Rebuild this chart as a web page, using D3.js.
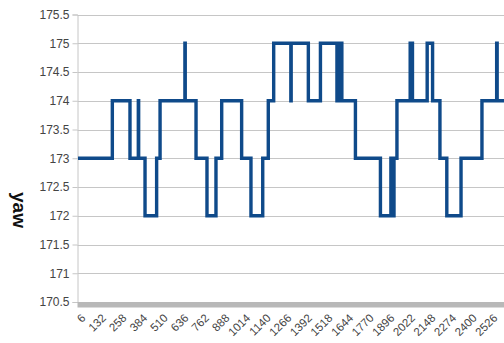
<!DOCTYPE html>
<html>
<head>
<meta charset="utf-8">
<script src="https://cdn.jsdelivr.net/npm/d3@7/dist/d3.min.js"></script>
<style>
  html, body { margin: 0; padding: 0; background: #fff; }
  svg { display: block; font-family: "Liberation Sans", Arial, sans-serif; }
</style>
</head>
<body>
<svg id="chart" width="504" height="343"></svg>
<script>
// Sample index where the yaw reading changes, and the new reading from there on
const changeX = [6, 216, 324, 375, 377, 416, 487, 508, 660, 662, 728, 795, 850, 885,
  1007, 1064, 1136, 1170, 1203, 1308, 1310, 1415, 1489, 1590, 1606, 1620, 1703,
  1856, 1920, 1928, 1939, 1957, 2038, 2052, 2142, 2175, 2220, 2262, 2349, 2477,
  2567, 2570, 2640];
const yawValues = [173, 174, 173, 174, 173, 172, 173, 174, 175, 174, 173, 172, 173, 174,
  173, 172, 173, 174, 175, 174, 175, 174, 175, 174, 175, 174, 173,
  172, 173, 172, 173, 174, 175, 174, 175, 174, 173, 172, 173, 174,
  175, 174, 174];

// Axis labels
const xTickLabels = [6, 132, 258, 384, 510, 636, 762, 888, 1014, 1140, 1266, 1392,
  1518, 1644, 1770, 1896, 2022, 2148, 2274, 2400, 2526];
const yTickLabels = [170.5, 171, 171.5, 172, 172.5, 173, 173.5, 174, 174.5, 175, 175.5];
const yTitle = "yaw";

const svg = d3.select("#chart");
const W = 504;
const plotLeft = 77.5;

const x = d3.scaleLinear().domain([6, 2640]).range([78, 508.6]);
const y = d3.scaleLinear().domain([170.5, 175.5]).range([302, 14.5]);

// horizontal grid
svg.append("g")
  .selectAll("line")
  .data(yTickLabels)
  .join("line")
  .attr("x1", plotLeft).attr("x2", W)
  .attr("y1", d => Math.round(y(d)) + 0.5).attr("y2", d => Math.round(y(d)) + 0.5)
  .attr("stroke", "#c6c6c6").attr("stroke-width", 1);

// y axis
const yAxis = svg.append("g")
  .attr("transform", `translate(${plotLeft},0)`)
  .call(d3.axisLeft(y).tickValues(yTickLabels).tickSize(5).tickPadding(3)
    .tickFormat(d => String(d)));
yAxis.select(".domain").attr("stroke", "#c6c6c6");
yAxis.selectAll(".tick line").attr("stroke", "#c6c6c6");
yAxis.selectAll(".tick text")
  .attr("fill", "#444").style("font-size", "12px")
  .style("font-family", "'Liberation Sans', Arial, sans-serif");

// dense category tick band along the x axis
svg.append("rect")
  .attr("x", plotLeft).attr("y", y(170.5))
  .attr("width", W - plotLeft).attr("height", 5.5)
  .attr("fill", "#b8b8b8");

// x tick labels, rotated
const xAxis = svg.append("g")
  .attr("transform", `translate(0,${y(170.5) + 11})`)
  .call(d3.axisBottom(x).tickValues(xTickLabels).tickSize(0).tickPadding(0)
    .tickFormat(d => String(d)));
xAxis.select(".domain").remove();
xAxis.selectAll(".tick text")
  .attr("fill", "#444").style("font-size", "11.5px")
  .style("font-family", "'Liberation Sans', Arial, sans-serif")
  .attr("text-anchor", "end")
  .attr("dy", "0.7em")
  .attr("transform", "translate(2,0) rotate(-45)");

// y axis title
svg.append("text")
  .attr("transform", `translate(13,210) rotate(90)`)
  .attr("text-anchor", "middle")
  .style("font-size", "19px").style("font-weight", "bold")
  .attr("fill", "#111")
  .text(yTitle);

// yaw series
const pts = changeX.map((d, i) => [d, yawValues[i]]);
const line = d3.line()
  .x(d => x(d[0])).y(d => y(d[1]))
  .curve(d3.curveStepAfter);

svg.append("path")
  .datum(pts)
  .attr("d", line)
  .attr("fill", "none")
  .attr("stroke", "#0f4a8a")
  .attr("stroke-width", 3.4)
  .attr("stroke-linejoin", "miter")
  .attr("stroke-linecap", "butt");
</script>
</body>
</html>
